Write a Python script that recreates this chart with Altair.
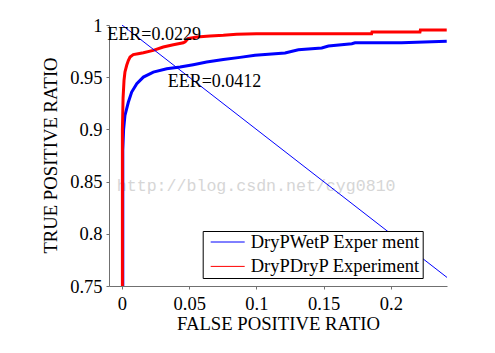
import altair as alt
import pandas as pd

# ---- data ----
series_names = ["DryPWetP Exper ment", "DryPDryP Experiment"]
series_colors = ["#0000ff", "#ff0000"]

red_fpr = [0.0003, 0.0003, 0.0008, 0.0015, 0.0022, 0.0035, 0.0047, 0.0060, 0.0084,
           0.0120, 0.0159, 0.0233, 0.0307, 0.0382, 0.0456, 0.0470, 0.0490, 0.0556,
           0.0655, 0.0754, 0.0853, 0.1000, 0.1857, 0.1860, 0.2217, 0.2220, 0.2416]
red_tpr = [0.750, 0.900, 0.930, 0.947, 0.955, 0.9614, 0.9660, 0.9693, 0.9716,
           0.9725, 0.9735, 0.9757, 0.9789, 0.9811, 0.9830, 0.9840, 0.9869, 0.9885,
           0.9895, 0.9901, 0.9911, 0.9917, 0.9917, 0.9933, 0.9933, 0.9952, 0.9952]

blue_fpr = [0.0006, 0.0006, 0.0012, 0.0022, 0.0047, 0.0072, 0.0110, 0.0159, 0.0233,
            0.0333, 0.0432, 0.0530, 0.0630, 0.0754, 0.0878, 0.0990, 0.1213, 0.1312,
            0.1486, 0.1536, 0.1710, 0.1734, 0.2080, 0.2416]
blue_tpr = [0.750, 0.880, 0.900, 0.9134, 0.9260, 0.9358, 0.9437, 0.9501, 0.9549,
            0.9581, 0.9597, 0.9620, 0.9645, 0.9670, 0.9690, 0.9710, 0.9732, 0.9763,
            0.9780, 0.9799, 0.9821, 0.9830, 0.9830, 0.9844]

# EER reference line tpr = 1 - fpr
diag_fpr = [0.0, 0.25]
diag_tpr = [1.0, 0.75]

eer_labels = ["EER=0.0229", "EER=0.0412"]
eer_x = [-0.0109, 0.0340]
eer_y = [0.9861, 0.9403]

watermark_text = ["http://blog.csdn.net/cyg0810"]
watermark_x = [-0.0039]
watermark_y = [0.841]

x_ticks = [0, 0.05, 0.1, 0.15, 0.2]
y_ticks = [0.75, 0.8, 0.85, 0.9, 0.95, 1.0]
x_domain = [-0.00967, 0.2418]
y_domain = [0.75, 1.0]

# ---- tables ----
red_df = pd.DataFrame({"fpr": red_fpr, "tpr": red_tpr, "series": series_names[1]})
blue_df = pd.DataFrame({"fpr": blue_fpr, "tpr": blue_tpr, "series": series_names[0]})
diag_df = pd.DataFrame({"fpr": diag_fpr, "tpr": diag_tpr})
eer_df = pd.DataFrame({"label": eer_labels, "fpr": eer_x, "tpr": eer_y})
wm_df = pd.DataFrame({"label": watermark_text, "fpr": watermark_x, "tpr": watermark_y})

SERIF = "Liberation Serif"
AXIS_GREY = "#707070"

x_enc = alt.X(
    "fpr:Q",
    scale=alt.Scale(domain=x_domain, nice=False, zero=False),
    axis=alt.Axis(
        title="FALSE POSITIVE RATIO", values=x_ticks, format="~g", grid=False,
        tickSize=3, labelPadding=5, labelFlush=False, labelOverlap=False,
        labelFont=SERIF, labelFontSize=18.5, labelColor="black",
        titleFont=SERIF, titleFontSize=18.7, titleFontWeight="normal", titleColor="black",
        titleBaseline="alphabetic", titleY=43.3,
        domainColor=AXIS_GREY, tickColor=AXIS_GREY,
    ),
)
y_enc = alt.Y(
    "tpr:Q",
    scale=alt.Scale(domain=y_domain, nice=False, zero=False),
    axis=alt.Axis(
        title="TRUE POSITIVE RATIO", values=y_ticks, format="~g", grid=False,
        tickSize=3, labelPadding=4, labelFlush=False, labelOverlap=False,
        labelFont=SERIF, labelFontSize=18.5, labelColor="black",
        titleFont=SERIF, titleFontSize=18.7, titleFontWeight="normal", titleColor="black",
        titleBaseline="alphabetic", titleAngle=270, titleX=-52.3, titleY=130,
        domainColor=AXIS_GREY, tickColor=AXIS_GREY,
    ),
)

color_enc = alt.Color(
    "series:N",
    scale=alt.Scale(domain=series_names, range=series_colors),
    legend=alt.Legend(
        title=None, orient="none", legendX=93.7, legendY=206,
        symbolType="stroke", symbolSize=1156, symbolStrokeWidth=1,
        clipHeight=18, rowPadding=5.4, padding=2, symbolOffset=5.5,
        labelOffset=5.5, labelFont=SERIF, labelFontSize=18.5, labelColor="black",
        labelLimit=400, strokeColor="black", fillColor="white",
    ),
)

blue_line = alt.Chart(blue_df).mark_line(strokeWidth=3).encode(
    x=x_enc, y=y_enc, color=color_enc, order=alt.Order("fpr:Q"))
red_line = alt.Chart(red_df).mark_line(strokeWidth=3).encode(
    x=x_enc, y=y_enc, color=color_enc, order=alt.Order("fpr:Q"))
diag_line = alt.Chart(diag_df).mark_line(strokeWidth=1, color="#0000ff", clip=True).encode(
    x=x_enc, y=y_enc)

eer_text = alt.Chart(eer_df).mark_text(
    align="left", baseline="alphabetic", font=SERIF, fontSize=18, color="black"
).encode(x=x_enc, y=y_enc, text="label:N")

watermark = alt.Chart(wm_df).mark_text(
    align="left", baseline="alphabetic", font="Liberation Mono", fontSize=16.6,
    color="#d6d6d6"
).encode(x=x_enc, y=y_enc, text="label:N")

chart = alt.layer(watermark, blue_line, red_line, diag_line, eer_text).properties(
    width=338, height=261,
    autosize=alt.AutoSizeParams(type="none"),
    padding={"left": 109, "top": 25, "right": 48, "bottom": 67},
    background="white",
).configure_view(stroke=None)

chart.save("out.html", embed_options={"renderer": "svg", "actions": False})
